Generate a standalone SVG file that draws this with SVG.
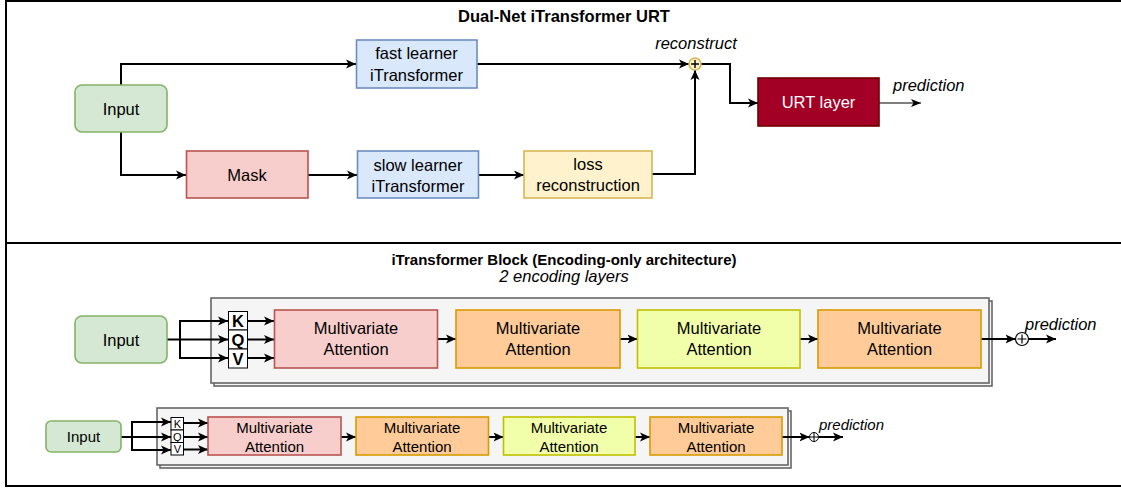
<svg xmlns="http://www.w3.org/2000/svg" width="1121" height="488" viewBox="0 0 1121 488">
<style>
text{font-family:"Liberation Sans",Arial,sans-serif;fill:#000}
.t17{font-size:16.5px;text-anchor:middle}
.t15{font-size:15px;text-anchor:middle}
.k13{font-size:11px;text-anchor:middle}
.it{font-style:italic}
.b{font-weight:bold}
.c{fill:none;stroke:#000;stroke-width:2;marker-end:url(#ar)}
.thin{fill:none;stroke:#000;stroke-width:1.2;marker-end:url(#ar2)}
.green{fill:#d5e8d4;stroke:#82b366;stroke-width:1.6}
.blue{fill:#dae8fc;stroke:#6c8ebf;stroke-width:1.6}
.red{fill:#f8cecc;stroke:#b85450;stroke-width:1.6}
.yel{fill:#fff2cc;stroke:#d6b656;stroke-width:1.6}
.org{fill:#ffcc99;stroke:#d79b00;stroke-width:1.6}
.lime{fill:#f2ffaa;stroke:#c0c000;stroke-width:1.6}
.cont{fill:#f5f5f5;stroke:#666;stroke-width:1.6}
.kqv{fill:#fff;stroke:#000;stroke-width:1}
</style>
<defs>
<marker id="ar" markerUnits="userSpaceOnUse" markerWidth="11" markerHeight="10" refX="10" refY="5" orient="auto">
<path d="M0,0.5 L10,5 L0,9.5 L2.5,5 Z" fill="#000"/>
</marker>
<marker id="ar2" markerUnits="userSpaceOnUse" markerWidth="11" markerHeight="10" refX="10" refY="5" orient="auto">
<path d="M0,1 L10,5 L0,9 L2.5,5 Z" fill="#000"/>
</marker>
</defs>

<g id="frames">
<rect x="6" y="1" width="1125" height="242" fill="#fff" stroke="#000" stroke-width="2"/>
<rect x="6" y="243" width="1125" height="243" fill="#fff" stroke="#000" stroke-width="2"/>
</g>

<g id="titles">
<text x="564" y="22" class="b" font-size="16.5" text-anchor="middle">Dual-Net iTransformer URT</text>
<text x="564" y="265" class="b" font-size="15" text-anchor="middle">iTransformer Block (Encoding-only architecture)</text>
<text x="564" y="282" class="it" font-size="16.5" text-anchor="middle">2 encoding layers</text>
</g>

<g id="container-big">
<rect x="214" y="301" width="778" height="85" class="cont"/>
<rect x="211" y="298" width="778" height="85" class="cont"/>
</g>
<g id="container-small">
<rect x="160" y="411" width="631" height="57" class="cont"/>
<rect x="157" y="408" width="631" height="57" class="cont"/>
</g>

<g id="connectors">
<path d="M121,85 V64 H356" class="c"/>
<path d="M121,132 V175 H186" class="c"/>
<path d="M308,175 H357" class="c"/>
<path d="M478,175 H524" class="c"/>
<path d="M477,64 H689" class="c"/>
<path d="M652,174 H695 V70" class="c"/>
<path d="M701,64 H730 V103 H758" class="c"/>
<path d="M879,103 H921" class="thin"/>

<path d="M167,339.5 H228" class="c"/>
<path d="M180,339.5 V321 H228" class="c"/>
<path d="M180,339.5 V358 H228" class="c"/>
<path d="M247.5,321 H274" class="c"/>
<path d="M247.5,339.5 H274" class="c"/>
<path d="M247.5,358 H274" class="c"/>
<path d="M437.5,339 H456" class="c"/>
<path d="M620,339 H637.5" class="c"/>
<path d="M800,339 H818" class="c"/>
<path d="M981,339 H1015.5" class="c"/>
<path d="M1028.5,339 H1056" class="c"/>

<path d="M121,437 H171" class="c"/>
<path d="M132,437 V422 H171" class="c"/>
<path d="M132,437 V450 H171" class="c"/>
<path d="M184,423 H208" class="c"/>
<path d="M184,437 H208" class="c"/>
<path d="M184,449.5 H208" class="c"/>
<path d="M341,437 H356" class="c"/>
<path d="M488.5,437 H503.5" class="c"/>
<path d="M635,437 H650" class="c"/>
<path d="M782,437 H809.5" class="c"/>
<path d="M818.5,437 H843" class="c"/>
</g>

<g id="input-top">
<rect x="75" y="85" width="92" height="47" rx="7" class="green"/>
<text x="121" y="115" class="t17">Input</text>
</g>
<g id="fast-learner">
<rect x="356.5" y="40" width="120.5" height="48" class="blue"/>
<text x="416.5" y="59" class="t17">fast learner</text>
<text x="416.5" y="81" class="t17">iTransformer</text>
</g>
<g id="mask">
<rect x="186.5" y="151" width="121.5" height="47" class="red"/>
<text x="247" y="181" class="t17">Mask</text>
</g>
<g id="slow-learner">
<rect x="357.5" y="151" width="121" height="47" class="blue"/>
<text x="418" y="171" class="t17">slow learner</text>
<text x="418" y="192" class="t17">iTransformer</text>
</g>
<g id="loss-reconstruction">
<rect x="524" y="151" width="128" height="47" class="yel"/>
<text x="588" y="170" class="t17">loss</text>
<text x="588" y="191" class="t17">reconstruction</text>
</g>
<g id="sum-top">
<circle cx="695" cy="64" r="6" class="yel"/>
<path d="M691,64 H699 M695,60 V68" stroke="#000" stroke-width="1.4" fill="none"/>
<text x="696" y="49" class="t17 it">reconstruct</text>
</g>
<g id="urt-layer">
<rect x="758" y="78" width="121" height="48" fill="#a20025" stroke="#6f0000" stroke-width="1.6"/>
<text x="818.5" y="108" class="t17" style="fill:#fff">URT layer</text>
</g>
<g id="prediction-top">
<text x="893" y="91" class="it" font-size="16.5">prediction</text>
</g>

<g id="input-big">
<rect x="75" y="316" width="92" height="47" rx="7" class="green"/>
<text x="121" y="345.5" class="t17">Input</text>
</g>
<g id="kqv-big">
<rect x="228.5" y="311.5" width="19" height="18.5" class="kqv"/>
<rect x="228.5" y="330" width="19" height="19" class="kqv"/>
<rect x="228.5" y="349" width="19" height="19" class="kqv"/>
<text x="238" y="327" class="t17 b">K</text>
<text x="238" y="345.5" class="t17 b">Q</text>
<text x="238" y="364.5" class="t17 b">V</text>
</g>
<g id="ma1-big">
<rect x="274.5" y="310" width="163" height="58" class="red"/>
<text x="356" y="334" class="t17">Multivariate</text>
<text x="356" y="355" class="t17">Attention</text>
</g>
<g id="ma2-big">
<rect x="456" y="310" width="164" height="58" class="org"/>
<text x="538" y="334" class="t17">Multivariate</text>
<text x="538" y="355" class="t17">Attention</text>
</g>
<g id="ma3-big">
<rect x="637.5" y="310" width="162.5" height="58" class="lime"/>
<text x="719" y="334" class="t17">Multivariate</text>
<text x="719" y="355" class="t17">Attention</text>
</g>
<g id="ma4-big">
<rect x="818" y="310" width="163" height="58" class="org"/>
<text x="899.5" y="334" class="t17">Multivariate</text>
<text x="899.5" y="355" class="t17">Attention</text>
</g>
<g id="sum-big">
<circle cx="1022" cy="339" r="6.5" fill="#fff" stroke="#000" stroke-width="1.2"/>
<path d="M1017.5,339 H1026.5 M1022,334.5 V343.5" stroke="#000" stroke-width="1.2" fill="none"/>
<text x="1025" y="330" class="it" font-size="16.5">prediction</text>
</g>

<g id="input-small">
<rect x="46" y="421" width="75" height="31" rx="5" class="green"/>
<text x="83.5" y="442" class="t15">Input</text>
</g>
<g id="kqv-small">
<rect x="171" y="417.5" width="12.5" height="12.5" class="kqv"/>
<rect x="171" y="430" width="12.5" height="12.5" class="kqv"/>
<rect x="171" y="442.5" width="12.5" height="12.5" class="kqv"/>
<text x="177.3" y="428" class="k13">K</text>
<text x="177.3" y="440.5" class="k13">Q</text>
<text x="177.3" y="453" class="k13">V</text>
</g>
<g id="ma1-small">
<rect x="208" y="417" width="133" height="38" class="red"/>
<text x="274.5" y="433" class="t15">Multivariate</text>
<text x="274.5" y="451.5" class="t15">Attention</text>
</g>
<g id="ma2-small">
<rect x="356" y="417" width="132.5" height="38" class="org"/>
<text x="422" y="433" class="t15">Multivariate</text>
<text x="422" y="451.5" class="t15">Attention</text>
</g>
<g id="ma3-small">
<rect x="503.5" y="417" width="131.5" height="38" class="lime"/>
<text x="569" y="433" class="t15">Multivariate</text>
<text x="569" y="451.5" class="t15">Attention</text>
</g>
<g id="ma4-small">
<rect x="650" y="417" width="132" height="38" class="org"/>
<text x="716" y="433" class="t15">Multivariate</text>
<text x="716" y="451.5" class="t15">Attention</text>
</g>
<g id="sum-small">
<circle cx="814" cy="437" r="4.5" fill="#fff" stroke="#000" stroke-width="1"/>
<path d="M809.5,437 H818.5 M814,432.5 V441.5" stroke="#000" stroke-width="1" fill="none"/>
<text x="819" y="430" class="it" font-size="15">prediction</text>
</g>
</svg>
